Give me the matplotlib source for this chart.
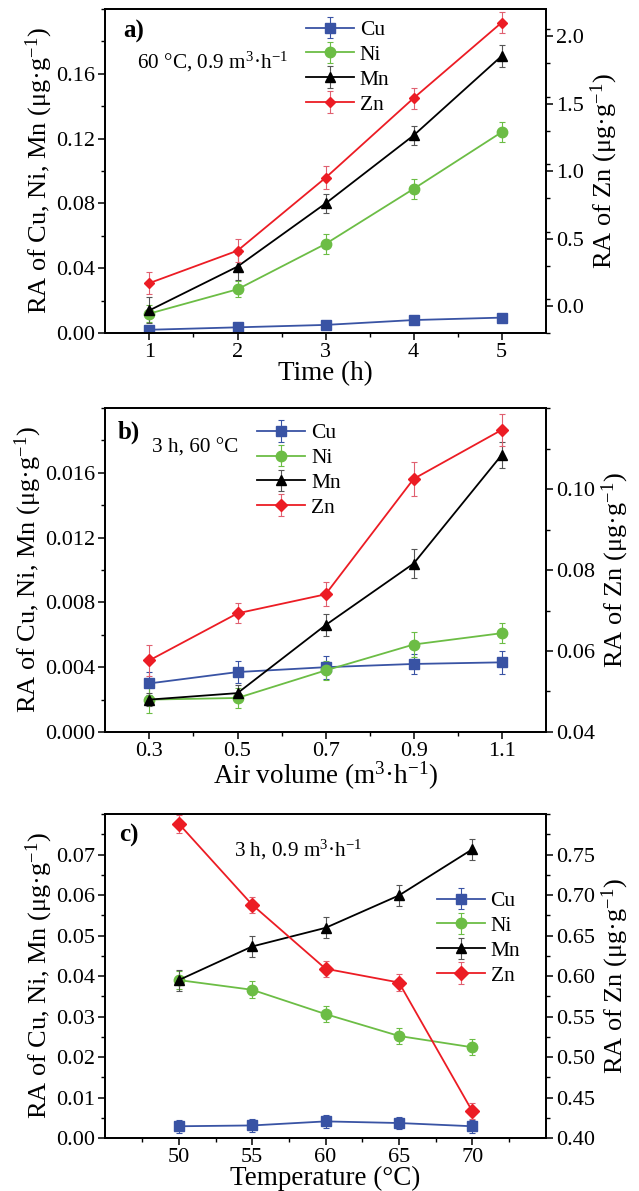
import matplotlib
matplotlib.use('Agg')
import matplotlib.pyplot as plt
import numpy as np

plt.rcParams['font.family'] = ['Liberation Serif', 'DejaVu Serif']
plt.rcParams['mathtext.fontset'] = 'custom'
plt.rcParams['mathtext.rm'] = 'Liberation Serif'
plt.rcParams['mathtext.it'] = 'Liberation Serif:italic'
plt.rcParams['mathtext.bf'] = 'Liberation Serif:bold'

# ---- data ----
# a) time
time_h = [1, 2, 3, 4, 5]
a_cu = [0.002, 0.0035, 0.005, 0.008, 0.0095]
a_cu_err = [0.0008, 0.0008, 0.0008, 0.0008, 0.0008]
a_ni = [0.012, 0.027, 0.055, 0.089, 0.124]
a_ni_err = [0.005, 0.005, 0.006, 0.006, 0.006]
a_mn = [0.014, 0.041, 0.080, 0.122, 0.171]
a_mn_err = [0.008, 0.008, 0.006, 0.006, 0.007]
a_zn = [0.17, 0.41, 0.95, 1.54, 2.10]
a_zn_err = [0.08, 0.085, 0.085, 0.078, 0.078]

# b) air volume
air_vol = [0.3, 0.5, 0.7, 0.9, 1.1]
b_cu = [0.0030, 0.0037, 0.0040, 0.0042, 0.0043]
b_cu_err = [0.0007, 0.0007, 0.0007, 0.0006, 0.0007]
b_ni = [0.0020, 0.0021, 0.0038, 0.0054, 0.0061]
b_ni_err = [0.0008, 0.0006, 0.0006, 0.0008, 0.0006]
b_mn = [0.0020, 0.0024, 0.0066, 0.0104, 0.0171]
b_mn_err = [0.0004, 0.0005, 0.0007, 0.0009, 0.0008]
b_zn = [0.0577, 0.0693, 0.0740, 0.1025, 0.1146]
b_zn_err = [0.0038, 0.0025, 0.0030, 0.0041, 0.0040]

# c) temperature
temp_c = [50, 55, 60, 65, 70]
c_cu = [0.0029, 0.0031, 0.0041, 0.0037, 0.0029]
c_cu_err = [0.0016, 0.0016, 0.0016, 0.0015, 0.0016]
c_ni = [0.0390, 0.0366, 0.0306, 0.0252, 0.0224]
c_ni_err = [0.0022, 0.0021, 0.0020, 0.0020, 0.0020]
c_mn = [0.0390, 0.0473, 0.0519, 0.0599, 0.0713]
c_mn_err = [0.0026, 0.0026, 0.0026, 0.0026, 0.0026]
c_zn = [0.788, 0.688, 0.609, 0.592, 0.433]
c_zn_err = [0.011, 0.010, 0.010, 0.011, 0.010]

blue = '#3953a4'
green = '#6cbd45'
black = '#000000'
red = '#ec1c24'

ylab_l = 'RA of Cu, Ni, Mn (μg·g$^{-1}$)'
ylab_r = 'RA of Zn (μg·g$^{-1}$)'

fig = plt.figure(figsize=(6.39, 11.91), dpi=100)
x0, w, h = 0.165, 0.689, 0.272
bottoms = [0.7204, 0.3854, 0.0445]


def style_axis(ax):
    for sp in ax.spines.values():
        sp.set_linewidth(1.3)
    ax.tick_params(which='major', direction='out', length=5, width=1.1, labelsize=16, pad=2.5)
    ax.tick_params(which='minor', direction='out', length=3, width=1.0)


def draw_panel(bottom, x, cu, cue, ni, nie, mn, mne, zn, zne, xlim, xticks, xminor,
               ylim_l, yticks_l, ylim_r, yticks_r, xlabel, tag, note, note_xy,
               leg_xy, zn_ms=6, xtick_labels=None):
    ax = fig.add_axes([x0, bottom, w, h])
    ax2 = ax.twinx()
    eb = dict(capsize=2.2, elinewidth=0.8, capthick=0.8, lw=1.3)
    l1 = ax.errorbar(x, cu, yerr=cue, color=blue, marker='s', ms=6.5,
                     ecolor=blue, label='Cu', **eb)
    l2 = ax.errorbar(x, ni, yerr=nie, color=green, marker='o', ms=7.5,
                     ecolor=green, label='Ni', **eb)
    l3 = ax.errorbar(x, mn, yerr=mne, color=black, marker='^', ms=7.5,
                     ecolor='#555555', label='Mn', **eb)
    l4 = ax2.errorbar(x, zn, yerr=zne, color=red, marker='D', ms=zn_ms,
                      ecolor='#e06070', label='Zn', **eb)
    ax.set_xlim(*xlim)
    ax.set_xticks(xticks)
    if xtick_labels is not None:
        ax.set_xticklabels(xtick_labels)
    ax.set_xticks(xminor, minor=True)
    ax.set_ylim(*ylim_l)
    ax.set_yticks(yticks_l)
    step = yticks_l[1] - yticks_l[0]
    ax.set_yticks(np.arange(ylim_l[0], ylim_l[1] + step / 4, step / 2), minor=True)
    ax.set_ylim(*ylim_l)
    ax2.set_ylim(*ylim_r)
    ax2.set_yticks(yticks_r)
    step = yticks_r[1] - yticks_r[0]
    ax2.set_yticks(np.arange(ylim_r[0], ylim_r[1] + step / 4, step / 2), minor=True)
    ax2.set_ylim(*ylim_r)
    style_axis(ax)
    style_axis(ax2)
    ax.set_xlabel(xlabel, fontsize=19.5, labelpad=-1)
    ax.set_ylabel(ylab_l, fontsize=19, labelpad=1)
    ax2.set_ylabel(ylab_r, fontsize=19, labelpad=3)
    ax.text(tag[0], tag[1], tag[2], transform=ax.transAxes, fontsize=18,
            fontweight='bold', va='center', ha='left')
    ax.text(note_xy[0], note_xy[1], note, transform=ax.transAxes, fontsize=15.3,
            va='center', ha='left')
    ax2.legend(handles=[l1, l2, l3, l4], loc='upper left', bbox_to_anchor=leg_xy,
               frameon=False, fontsize=15.5, borderpad=0, borderaxespad=0,
               handlelength=2.23, handletextpad=0.28, labelspacing=0.22)
    return ax, ax2


draw_panel(bottoms[0], time_h, a_cu, a_cu_err, a_ni, a_ni_err, a_mn, a_mn_err,
           a_zn, a_zn_err, (0.5, 5.5), time_h, [1.5, 2.5, 3.5, 4.5],
           (0, 0.2), [0.00, 0.04, 0.08, 0.12, 0.16], (-0.2, 2.2),
           [0.0, 0.5, 1.0, 1.5, 2.0], 'Time (h)', (0.04, 0.93, 'a)'),
           '60 °C, 0.9 m$^3$·h$^{-1}$', (0.072, 0.836), (0.455, 0.966), zn_ms=5.5,
           xtick_labels=['1', '2', '3', '4', '5'])

draw_panel(bottoms[1], air_vol, b_cu, b_cu_err, b_ni, b_ni_err, b_mn, b_mn_err,
           b_zn, b_zn_err, (0.2, 1.2), air_vol, [0.4, 0.6, 0.8, 1.0],
           (0, 0.020), [0.000, 0.004, 0.008, 0.012, 0.016], (0.04, 0.12),
           [0.04, 0.06, 0.08, 0.10], 'Air volume (m$^3$·h$^{-1}$)', (0.027, 0.926, 'b)'),
           '3 h, 60 °C', (0.105, 0.877), (0.345, 0.953), zn_ms=6,
           xtick_labels=['0.3', '0.5', '0.7', '0.9', '1.1'])

axc, axc2 = draw_panel(bottoms[2], temp_c, c_cu, c_cu_err, c_ni, c_ni_err, c_mn, c_mn_err,
                       c_zn, c_zn_err, (45, 75), temp_c, [47.5, 52.5, 57.5, 62.5, 67.5, 72.5],
                       (0, 0.08), [0.00, 0.01, 0.02, 0.03, 0.04, 0.05, 0.06, 0.07], (0.40, 0.80),
                       [0.40, 0.45, 0.50, 0.55, 0.60, 0.65, 0.70, 0.75], 'Temperature (°C)',
                       (0.03, 0.935, 'c)'), '3 h, 0.9 m$^3$·h$^{-1}$', (0.293, 0.889),
                       (0.752, 0.762), zn_ms=7.5)
axc.yaxis.set_major_formatter(matplotlib.ticker.FormatStrFormatter('%.2f'))
axc2.yaxis.set_major_formatter(matplotlib.ticker.FormatStrFormatter('%.2f'))

fig.savefig('out.png', dpi=100)
